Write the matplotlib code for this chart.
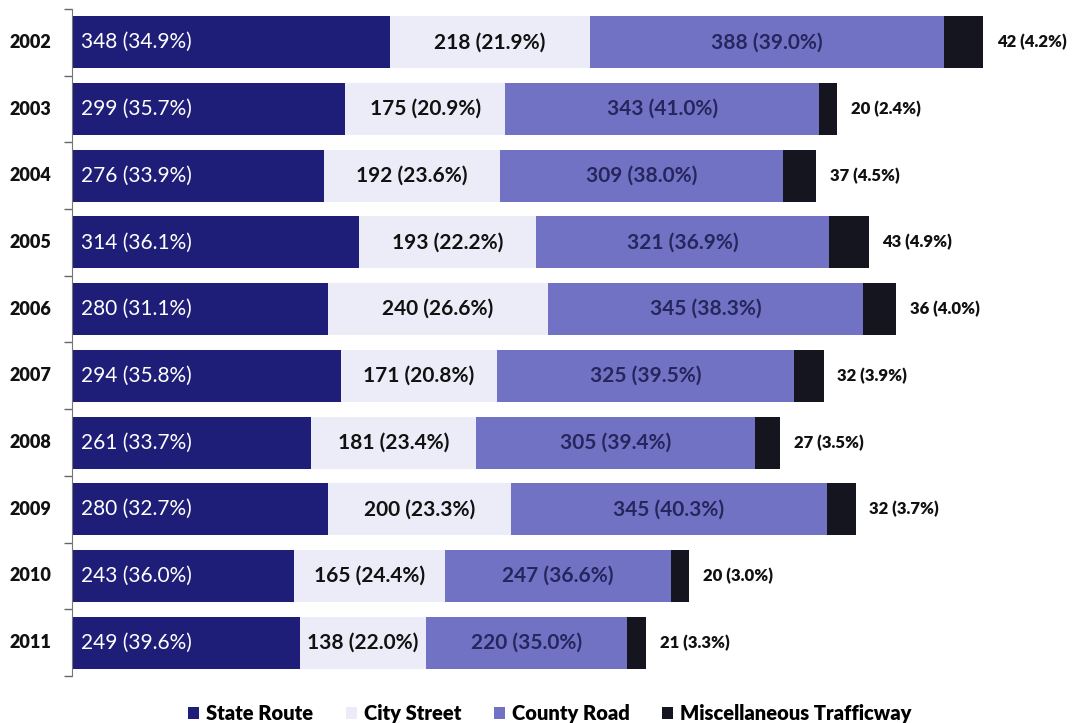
import matplotlib.pyplot as plt
import matplotlib.transforms as mtransforms
import numpy as np

plt.rcParams['font.family'] = ['Lato', 'DejaVu Sans']

years = ['2002', '2003', '2004', '2005', '2006', '2007', '2008', '2009', '2010', '2011']
state_route = [348, 299, 276, 314, 280, 294, 261, 280, 243, 249]
city_street = [218, 175, 192, 193, 240, 171, 181, 200, 165, 138]
county_road = [388, 343, 309, 321, 345, 325, 305, 345, 247, 220]
misc_trafficway = [42, 20, 37, 43, 36, 32, 27, 32, 20, 21]

state_pct = [34.9, 35.7, 33.9, 36.1, 31.1, 35.8, 33.7, 32.7, 36.0, 39.6]
city_pct = [21.9, 20.9, 23.6, 22.2, 26.6, 20.8, 23.4, 23.3, 24.4, 22.0]
county_pct = [39.0, 41.0, 38.0, 36.9, 38.3, 39.5, 39.4, 40.3, 36.6, 35.0]
misc_pct = [4.2, 2.4, 4.5, 4.9, 4.0, 3.9, 3.5, 3.7, 3.0, 3.3]

series_names = ['State Route', 'City Street', 'County Road', 'Miscellaneous Trafficway']
colors = ['#1e1e78', '#ececf8', '#7272c4', '#15151f']

fig = plt.figure(figsize=(10.78, 7.23), dpi=100)
ax = fig.add_axes([72 / 1078, 47 / 723, 1006 / 1078, 667 / 723])

y = np.arange(len(years))
height = 0.78
left = np.zeros(len(years))
data = [state_route, city_street, county_road, misc_trafficway]
pcts = [state_pct, city_pct, county_pct, misc_pct]

for i, (vals, name, col) in enumerate(zip(data, series_names, colors)):
    vals = np.array(vals, dtype=float)
    ax.barh(y, vals, left=left, height=height, color=col, label=name)
    for j in range(len(years)):
        txt = f'{int(vals[j])} ({pcts[i][j]:.1f}%)'
        if i == 0:
            ax.text(left[j] + 10, y[j], txt, ha='left', va='center',
                    color='white', fontsize=15)
        elif i == 1:
            ax.text(left[j] + vals[j] / 2, y[j], txt, ha='center', va='center',
                    color='#111111', fontsize=15, fontweight='bold')
        elif i == 2:
            ax.text(left[j] + vals[j] / 2, y[j], txt, ha='center', va='center',
                    color='#26265e', fontsize=15, fontweight='bold')
        else:
            ax.text(left[j] + vals[j] + 15, y[j], txt, ha='left', va='center',
                    color='#111111', fontsize=12, fontweight='heavy')
    left += vals

ax.set_xlim(0, 1100)
ax.set_ylim(len(years) - 0.5, -0.5)

# year labels at the left edge; ticks sit between the bars
ax.set_yticks([])
ax.set_yticks(np.arange(-0.5, len(years)), minor=True)
ax.tick_params(axis='y', which='minor', length=6, color='#666666', width=1)
trans = mtransforms.blended_transform_factory(fig.transFigure, ax.transData)
for j, yr in enumerate(years):
    fig.text(9 / 1078, y[j], yr, transform=trans, ha='left', va='center',
             fontsize=13, fontweight='heavy', color='#111111')

ax.set_xticks([])
for side in ['top', 'right', 'bottom']:
    ax.spines[side].set_visible(False)
ax.spines['left'].set_color('#777777')

fig.legend(loc='lower center', bbox_to_anchor=(0.51, -0.025), ncol=4, frameon=False,
           prop={'size': 14.5, 'weight': 'heavy'}, handlelength=0.55, handleheight=0.55,
           handletextpad=0.35, columnspacing=1.6)

plt.savefig('out.png', dpi=100)
